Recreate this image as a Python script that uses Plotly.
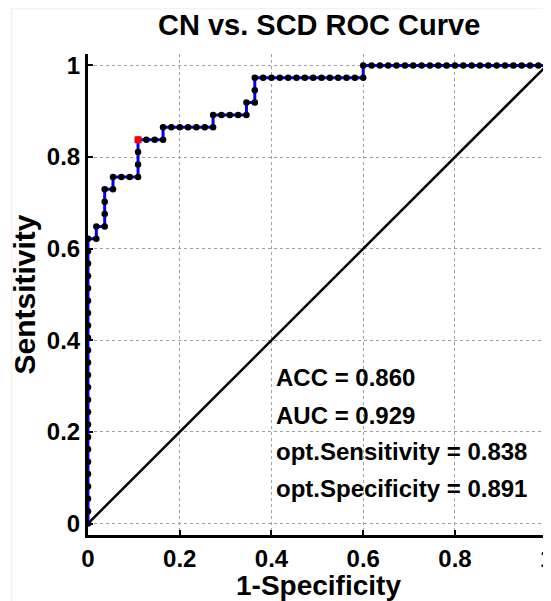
import plotly.graph_objects as go

# ---- data ----
n_neg = 55   # negatives (x-steps)
n_pos = 37   # positives (y-steps)

fp_count = [0, 0, 0, 0, 0, 0, 0, 0, 0, 0, 0, 0, 0, 0, 0, 0, 0, 0, 0, 0, 0, 0, 0, 0,
            1, 1,
            2, 2, 2, 2,
            3, 3,
            4, 5, 6, 6, 6, 6,
            7, 8, 9, 9,
            10, 11, 12, 13, 14, 15, 15,
            16, 17, 18, 19, 19,
            20, 20, 20,
            21, 22, 23, 24, 25, 26, 27, 28, 29, 30, 31, 32, 33, 33,
            34, 35, 36, 37, 38, 39, 40, 41, 42, 43, 44, 45, 46, 47, 48, 49, 50, 51, 52, 53, 54, 55]
tp_count = [0, 1, 2, 3, 4, 5, 6, 7, 8, 9, 10, 11, 12, 13, 14, 15, 16, 17, 18, 19, 20, 21, 22, 23,
            23, 24,
            24, 25, 26, 27,
            27, 28,
            28, 28, 28, 29, 30, 31,
            31, 31, 31, 32,
            32, 32, 32, 32, 32, 32, 33,
            33, 33, 33, 33, 34,
            34, 35, 36,
            36, 36, 36, 36, 36, 36, 36, 36, 36, 36, 36, 36, 36, 37,
            37, 37, 37, 37, 37, 37, 37, 37, 37, 37, 37, 37, 37, 37, 37, 37, 37, 37, 37, 37, 37, 37]

opt_fp = 6
opt_tp = 31

diag_x = [0, 1]
diag_y = [0, 1]

tick_vals = [0, 0.2, 0.4, 0.6, 0.8, 1]
tick_text = ["0", "0.2", "0.4", "0.6", "0.8", "1"]

stats_lines = ["ACC = 0.860", "AUC = 0.929", "opt.Sensitivity = 0.838", "opt.Specificity = 0.891"]

fpr = [v / n_neg for v in fp_count]
tpr = [v / n_pos for v in tp_count]

FONT = "Liberation Sans, Arial, Helvetica, sans-serif"

fig = go.Figure()
fig.add_trace(go.Scatter(x=diag_x, y=diag_y, mode="lines",
                         line=dict(color="black", width=2.5), showlegend=False))
fig.add_trace(go.Scatter(x=fpr, y=tpr, mode="lines+markers",
                         line=dict(color="#0000ff", width=3),
                         marker=dict(color="black", size=6.5),
                         showlegend=False))
fig.add_trace(go.Scatter(x=[opt_fp / n_neg], y=[opt_tp / n_pos], mode="markers",
                         marker=dict(color="red", size=7, symbol="square"),
                         showlegend=False))

axis_common = dict(
    showgrid=True, gridcolor="#a0a0a0", griddash="dot", gridwidth=1,
    zeroline=False, showline=True, linecolor="black", linewidth=3,
    ticks="inside", ticklen=5, tickwidth=1.5, tickcolor="black",
    tickvals=tick_vals, ticktext=tick_text,
    tickfont=dict(family=FONT, size=24, color="black", weight="bold"),
    mirror=False, automargin=False, ticklabeloverflow="allow",
)

# page body has an 8px default margin, so the figure is 8px smaller than the window
W, H = 543, 593
ML, MR, MT, MB = 80, 2, 46, 66
fig.update_layout(
    width=W, height=H,
    paper_bgcolor="white", plot_bgcolor="white",
    margin=dict(l=ML, r=MR, t=MT, b=MB),
    xaxis=dict(range=[0, 1.005], **axis_common),
    yaxis=dict(range=[-0.025, 1.025], **axis_common),
    font=dict(family=FONT, color="black"),
)

# faint frame of the original image (left and top edges)
pw, ph = W - ML - MR, H - MT - MB
bx = (3.5 - ML) / pw
by = (H - MB - 0.5) / ph
fig.add_shape(type="line", xref="paper", yref="paper", x0=bx, x1=bx, y0=-0.2, y1=by,
              line=dict(color="#fbeeee", width=1.5), layer="below")
fig.add_shape(type="line", xref="paper", yref="paper", x0=bx, x1=1.1, y0=by, y1=by,
              line=dict(color="#fbeeee", width=1.5), layer="below")

fig.add_annotation(text="CN vs. SCD ROC Curve", xref="paper", yref="paper",
                   x=0.5, y=1, yshift=29, showarrow=False, yanchor="middle",
                   font=dict(family=FONT, size=29, color="black", weight="bold"))
fig.add_annotation(text="1-Specificity", xref="paper", yref="paper",
                   x=0.5, y=0, yshift=-50, showarrow=False, yanchor="middle",
                   font=dict(family=FONT, size=28, color="black", weight="bold"))
fig.add_annotation(text="Sentsitivity", xref="paper", yref="paper",
                   x=0, y=0.5, xshift=-64, showarrow=False, textangle=-90,
                   xanchor="center", yanchor="middle",
                   font=dict(family=FONT, size=30, color="black", weight="bold"))

stat_y = [0.318, 0.236, 0.157, 0.077]
for txt, yy in zip(stats_lines, stat_y):
    fig.add_annotation(text=txt, x=0.405, y=yy, xref="x", yref="y",
                       showarrow=False, xanchor="left", yanchor="middle",
                       font=dict(family=FONT, size=24, color="black", weight="bold"))

fig.write_html("out.html")
